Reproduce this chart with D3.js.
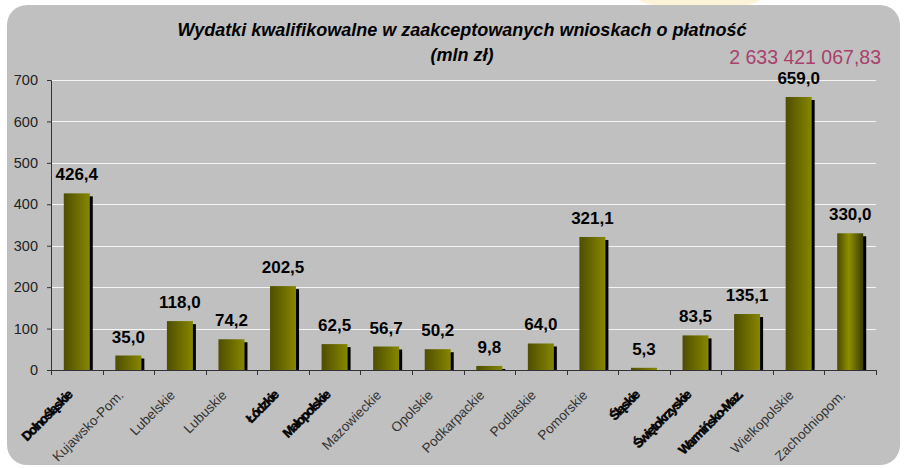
<!DOCTYPE html>
<html>
<head>
<meta charset="utf-8">
<script src="https://cdn.jsdelivr.net/npm/d3@7"></script>
<style>
  body { margin: 0; background: #fff; }
  svg { display: block; font-family: Arial, "Liberation Sans", sans-serif; }
</style>
</head>
<body>
<div id="chart"></div>
<script>
// data
const regions = ["Dolnośląskie", "Kujawsko-Pom.", "Lubelskie", "Lubuskie", "Łódzkie", "Małopolskie",
  "Mazowieckie", "Opolskie", "Podkarpackie", "Podlaskie", "Pomorskie", "Śląskie",
  "Świętokrzyskie", "Warmińsko-Maz.", "Wielkopolskie", "Zachodniopom."];
const values = [426.4, 35.0, 118.0, 74.2, 202.5, 62.5, 56.7, 50.2, 9.8, 64.0, 321.1, 5.3, 83.5, 135.1, 659.0, 330.0];
const boldRegions = ["Dolnośląskie", "Łódzkie", "Małopolskie", "Śląskie", "Świętokrzyskie", "Warmińsko-Maz."];
const yTicks = [0, 100, 200, 300, 400, 500, 600, 700];
const totalLabel = "2 633 421 067,83";

const data = regions.map((r, i) => ({region: r, value: values[i]}));

const W = 904, H = 468;
const margin = {top: 80, right: 28, bottom: 98, left: 51};
const width = W - margin.left - margin.right,
    height = H - margin.top - margin.bottom;

const svg = d3.select("#chart").append("svg")
    .attr("width", W)
    .attr("height", H);

const defs = svg.append("defs");
const grad = defs.append("linearGradient").attr("id", "barGrad");
grad.append("stop").attr("offset", "0%").attr("stop-color", "#4e4e00");
grad.append("stop").attr("offset", "100%").attr("stop-color", "#878700");
const cyl = defs.append("linearGradient").attr("id", "cylGrad");
cyl.append("stop").attr("offset", "0%").attr("stop-color", "#4a4a00");
cyl.append("stop").attr("offset", "45%").attr("stop-color", "#8f8f00");
cyl.append("stop").attr("offset", "100%").attr("stop-color", "#3c3c00");

// faint decoration behind the panel
svg.append("ellipse")
    .attr("cx", 700).attr("cy", 0).attr("rx", 60).attr("ry", 8)
    .attr("fill", "#fdf3d8");

// panel
svg.append("rect")
    .attr("x", 7).attr("y", 5)
    .attr("width", 893).attr("height", 460)
    .attr("rx", 20).attr("ry", 20)
    .attr("fill", "#c0c0c0");

// title
svg.append("text")
    .attr("x", 462).attr("y", 36)
    .attr("text-anchor", "middle")
    .style("font-size", "18px").style("font-weight", "bold").style("font-style", "italic")
    .text("Wydatki kwalifikowalne w zaakceptowanych wnioskach o płatność");
svg.append("text")
    .attr("x", 462).attr("y", 61)
    .attr("text-anchor", "middle")
    .style("font-size", "18px").style("font-weight", "bold").style("font-style", "italic")
    .text("(mln zł)");

svg.append("text")
    .attr("x", 881).attr("y", 64)
    .attr("text-anchor", "end")
    .attr("fill", "#a8416c")
    .style("font-size", "19.5px")
    .text(totalLabel);

const g = svg.append("g")
    .attr("transform", `translate(${margin.left},${margin.top})`);

const x = d3.scaleBand()
    .domain(regions)
    .range([0, width]);

const y = d3.scaleLinear()
    .domain([0, 700])
    .range([height, 0]);

// gridlines
g.selectAll(".grid")
    .data(yTicks.filter(t => t > 0))
    .enter().append("line")
    .attr("class", "grid")
    .attr("x1", 0).attr("x2", width)
    .attr("y1", d => Math.round(y(d)) + 0.5)
    .attr("y2", d => Math.round(y(d)) + 0.5)
    .attr("stroke", "#f4f4f4");

const barW = 26;

// shadows
g.selectAll(".shadow")
    .data(data)
    .enter().append("rect")
    .attr("class", "shadow")
    .attr("x", d => x(d.region) + x.bandwidth() / 2 - barW / 2 + 3)
    .attr("y", d => y(d.value) + 3)
    .attr("width", barW)
    .attr("height", d => height - y(d.value) - 3)
    .attr("fill", "#000");

g.selectAll(".bar")
    .data(data)
    .enter().append("rect")
    .attr("class", "bar")
    .attr("x", d => x(d.region) + x.bandwidth() / 2 - barW / 2)
    .attr("y", d => y(d.value))
    .attr("width", barW)
    .attr("height", d => height - y(d.value))
    .attr("fill", (d, i) => i === regions.length - 1 ? "url(#cylGrad)" : "url(#barGrad)");

g.selectAll(".label")
    .data(data)
    .enter().append("text")
    .attr("class", "label")
    .attr("x", d => x(d.region) + x.bandwidth() / 2)
    .attr("y", d => y(d.value) - 13)
    .attr("text-anchor", "middle")
    .style("font-size", "17px").style("font-weight", "bold")
    .text(d => d3.format(".1f")(d.value).replace(".", ","));

// y axis
const yAxis = g.append("g")
    .call(d3.axisLeft(y).tickValues(yTicks).tickSize(4).tickPadding(9));
yAxis.select(".domain").attr("stroke", "#333");
yAxis.selectAll(".tick line").attr("stroke", "#333");
yAxis.selectAll("text")
    .style("font-size", "14.5px").attr("fill", "#222");

// x axis with ticks at band boundaries
const xAxis = g.append("g")
    .attr("transform", `translate(0,${height})`);
xAxis.append("line")
    .attr("x1", 0).attr("x2", width)
    .attr("y1", 0.5).attr("y2", 0.5)
    .attr("stroke", "#333");
xAxis.selectAll(".xtick")
    .data(regions.concat([null]))
    .enter().append("line")
    .attr("x1", (d, i) => Math.round(i * x.bandwidth()) + 0.5)
    .attr("x2", (d, i) => Math.round(i * x.bandwidth()) + 0.5)
    .attr("y1", 0).attr("y2", 5)
    .attr("stroke", "#333");

xAxis.selectAll(".xlabel")
    .data(regions)
    .enter().append("text")
    .attr("class", "xlabel")
    .attr("transform", d => `translate(${x(d) + x.bandwidth() / 2 - 4},${26}) rotate(-45)`)
    .attr("text-anchor", "end")
    .attr("fill", d => boldRegions.includes(d) ? "#000" : "#333")
    .attr("stroke", d => boldRegions.includes(d) ? "#000" : null)
    .attr("stroke-width", d => boldRegions.includes(d) ? 0.5 : null)
    .style("font-size", d => boldRegions.includes(d) ? "13px" : "13.5px")
    .style("font-weight", d => boldRegions.includes(d) ? "bold" : "normal")
    .style("letter-spacing", d => boldRegions.includes(d) ? "-1.3px" : null)
    .text(d => d);
</script>
</body>
</html>
